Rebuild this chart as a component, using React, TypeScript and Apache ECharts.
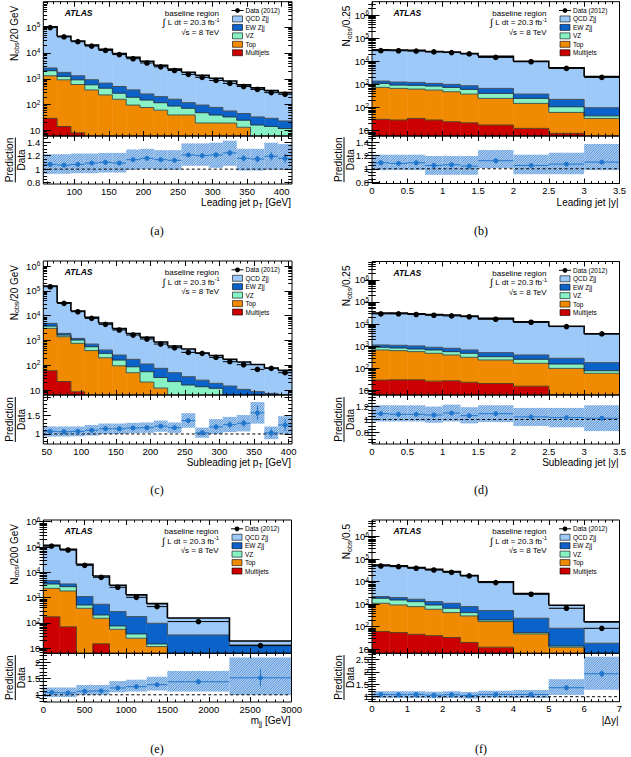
import React, { useEffect, useRef } from 'react';
import * as echarts from 'echarts';

// ===== (a) Leading jet pT, 20 GeV bins =====
const aEdges = [55, 75, 95, 115, 135, 155, 175, 195, 215, 235, 255, 275, 295, 315, 335, 355, 375, 395, 415];
const aData = [97000, 42000, 27500, 18600, 12600, 8700, 6000, 4100, 2900, 2100, 1480, 1130, 860, 660, 500, 385, 290, 250];
const aQCD = [101000, 42750, 28100, 19360, 13180, 8980, 6470, 4500, 3100, 2210, 1670, 1260, 964, 762, 535, 410, 316, 267];
const aEW = [560, 535, 398, 332, 247, 226, 179, 108, 85, 73, 47, 47, 38, 23, 20, 17, 15, 11.4];
const aVZ = [750, 325, 314, 216, 194, 114, 96, 73, 57, 48, 32, 29, 20, 14, 11.5, 11, 10, 8.2];
const aTop = [1280, 895, 590, 365, 234, 159, 94, 76, 60, 39, 39, 19, 19, 19, 13, 5, 4, 3.4];
const aMJ = [29, 14, 8, 4, 2, 1, 1, 0.5, 0.5, 0.3, 0.3, 0.2, 0.2, 0.1, 0.1, 0.1, 0.1, 0.1];
const aRatio = [1.07, 1.06, 1.07, 1.09, 1.1, 1.09, 1.14, 1.16, 1.14, 1.13, 1.21, 1.2, 1.21, 1.24, 1.16, 1.15, 1.19, 1.16];
const aBandLo = [0.93, 0.93, 0.94, 0.94, 0.95, 0.95, 0.99, 1.0, 0.99, 0.99, 1.05, 1.05, 1.02, 1.05, 0.98, 0.98, 0.99, 0.99];
const aBandHi = [1.22, 1.22, 1.23, 1.23, 1.24, 1.24, 1.29, 1.3, 1.28, 1.28, 1.38, 1.38, 1.39, 1.42, 1.3, 1.3, 1.39, 1.37];
const aStat = [0.004, 0.005, 0.006, 0.008, 0.01, 0.012, 0.014, 0.017, 0.02, 0.023, 0.028, 0.032, 0.037, 0.042, 0.048, 0.055, 0.063, 0.07];

// ===== (b) Leading jet |y| =====
const bEdges = [0, 0.25, 0.5, 0.75, 1, 1.25, 1.5, 2, 2.5, 3, 3.5];
const bData = [29000, 28700, 27500, 25500, 24000, 21000, 14800, 9600, 4950, 2020];
const bQCD = [30200, 29700, 28750, 25660, 24430, 20960, 15900, 9700, 5070, 2120];
const bEW = [293, 328, 316, 257, 260, 270, 265, 135, 117, 55];
const bVZ = [363, 266, 282, 280, 262, 227, 161, 98, 47, 10];
const bTop = [716, 647, 596, 544, 460, 363, 232, 139, 54, 31];
const bMJ = [31, 29, 34, 29, 24.5, 22, 17.6, 12.6, 7.7, 3];
const bRatio = [1.09, 1.08, 1.09, 1.05, 1.06, 1.04, 1.12, 1.05, 1.07, 1.1];
const bBandLo = [0.98, 0.98, 0.98, 0.91, 0.91, 0.91, 1.01, 0.92, 0.92, 0.98];
const bBandHi = [1.21, 1.21, 1.21, 1.19, 1.19, 1.19, 1.28, 1.21, 1.24, 1.37];
const bStat = [0.006, 0.006, 0.006, 0.006, 0.007, 0.007, 0.008, 0.01, 0.014, 0.022];

// ===== (c) Subleading jet pT =====
const cEdges = [45, 65, 85, 105, 125, 145, 165, 185, 205, 225, 245, 265, 285, 305, 325, 345, 365, 385, 405];
const cData = [147000, 31300, 14400, 7770, 4450, 2630, 1650, 1140, 716, 509, 330, 301, 207, 139, 105, 68, 75, 50];
const cQCD = [152400, 31250, 14200, 7830, 4660, 2740, 1740, 1220, 791, 546, 414, 285, 228, 159, 125, 98, 70, 56];
const cEW = [1070, 280, 170, 158, 109, 96, 86, 57, 43, 28, 18.5, 11.4, 6.9, 9.5, 6.6, 5.6, 4.3, 4.3];
const cVZ = [730, 240, 277, 168, 101, 67, 37, 34, 20, 18, 13, 11.6, 10.2, 4, 3.2, 2.5, 2.5, 1.7];
const cTop = [3010, 1388, 754, 387, 199, 94.5, 49.7, 20.8, 11.9, 3.9, 2.9, 1.9, 1.4, 0.9, 0.7, 0.4, 0.4, 0.2];
const cMJ = [60, 22, 8.5, 3, 1, 0.5, 0.3, 0.2, 0.1, 0.1, 0.1, 0.1, 0.1, 0.1, 0.1, 0.1, 0.1, 0.1];
const cRatio = [1.07, 1.06, 1.07, 1.1, 1.14, 1.14, 1.16, 1.17, 1.21, 1.17, 1.36, 1.03, 1.19, 1.25, 1.29, 1.57, 1.03, 1.24];
const cBandLo = [0.93, 0.93, 0.94, 0.96, 1.0, 1.0, 1.02, 1.03, 1.06, 1.03, 1.17, 0.9, 1.0, 1.05, 1.07, 1.28, 0.86, 1.0];
const cBandHi = [1.2, 1.2, 1.2, 1.24, 1.28, 1.28, 1.3, 1.31, 1.36, 1.31, 1.56, 1.17, 1.4, 1.46, 1.51, 1.86, 1.2, 1.48];
const cStat = [0.003, 0.006, 0.009, 0.012, 0.016, 0.02, 0.026, 0.032, 0.04, 0.048, 0.06, 0.06, 0.07, 0.09, 0.1, 0.19, 0.12, 0.16];

// ===== (d) Subleading jet |y| =====
const dEdges = [0, 0.25, 0.5, 0.75, 1, 1.25, 1.5, 2, 2.5, 3, 3.5];
const dData = [29100, 29100, 27200, 25300, 23600, 21700, 16700, 12200, 7800, 3630];
const dQCD = [30560, 30310, 28330, 26160, 25140, 22320, 17680, 12280, 7750, 3520];
const dEW = [248, 270, 278, 221, 240, 201, 177, 149, 129, 104];
const dVZ = [221, 206, 186, 201, 169, 165, 101, 88, 58, 19];
const dTop = [657, 610, 547, 459, 381, 297, 222, 156, 95, 58];
const dMJ = [30, 31, 31, 27, 28, 24, 21, 16, 6.5, 3];
const dRatio = [1.09, 1.08, 1.08, 1.07, 1.1, 1.06, 1.09, 1.04, 1.03, 1.02];
const dBandLo = [0.97, 0.97, 0.97, 0.95, 0.97, 0.94, 0.96, 0.9, 0.88, 0.82];
const dBandHi = [1.22, 1.22, 1.22, 1.2, 1.23, 1.19, 1.22, 1.18, 1.18, 1.22];
const dStat = [0.006, 0.006, 0.006, 0.006, 0.007, 0.007, 0.008, 0.009, 0.011, 0.017];

// ===== (e) m_jj =====
const eEdges = [0, 200, 400, 600, 800, 1000, 1250, 1500, 2250, 3000];
const eData = [109000, 76000, 18900, 6350, 2560, 1030, 442, 113, 12.7];
const eQCD = [111900, 77090, 19880, 6566, 2818, 1110, 482, 124, 5.8];
const eEW = [1220, 750, 584, 339, 204, 141, 82, 28.6, 12.5];
const eVZ = [1140, 890, 134, 54, 20, 12, 3.2, 3, 0.5];
const eTop = [2155, 1760, 379, 138, 56, 24.8, 11.6, 2, 0.5];
const eMJ = [175, 70, 0, 15, 0, 0, 0, 0, 0];
const eRatio = [1.07, 1.06, 1.11, 1.12, 1.21, 1.25, 1.31, 1.4, 1.52];
const eBandLo = [0.93, 0.93, 1.0, 1.0, 1.08, 1.1, 1.13, 1.1, 1.0];
const eBandHi = [1.22, 1.22, 1.3, 1.3, 1.42, 1.46, 1.55, 1.73, 2.14];
const eStat = [0.003, 0.004, 0.008, 0.014, 0.024, 0.04, 0.06, 0.08, 0.26];

// ===== (f) |Δy| =====
const fEdges = [0, 0.5, 1, 1.5, 2, 2.5, 3, 4, 5, 6, 7];
const fData = [49900, 46600, 39400, 33200, 26100, 18000, 9100, 2760, 660, 85];
const fQCD = [52220, 48360, 41290, 33890, 27090, 18120, 9400, 2770, 812, 145];
const fEW = [340, 418, 353, 376, 438, 358, 320, 183, 71.5, 13.5];
const fVZ = [734, 618, 521, 331, 237, 123, 31, 7, 1.7, 1];
const fTop = [1038, 872, 736, 556, 391, 281, 157, 48, 12.3, 4];
const fMJ = [61, 55, 46, 40, 33, 20, 12.3, 0, 0, 0];
const fRatio = [1.09, 1.08, 1.09, 1.06, 1.08, 1.05, 1.09, 1.09, 1.36, 1.92];
const fBandLo = [0.95, 0.95, 0.95, 0.94, 0.95, 0.93, 0.96, 0.95, 1.07, 1.28];
const fBandHi = [1.22, 1.22, 1.22, 1.2, 1.22, 1.19, 1.24, 1.27, 1.7, 2.6];
const fStat = [0.006, 0.006, 0.007, 0.007, 0.008, 0.01, 0.014, 0.025, 0.06, 0.14];

// ===== tick labels =====
const aXTicks = [100, 150, 200, 250, 300, 350, 400];
const yXTicks = [0, 0.5, 1, 1.5, 2, 2.5, 3, 3.5];
const cXTicks = [50, 100, 150, 200, 250, 300, 350, 400];
const eXTicks = [0, 500, 1000, 1500, 2000, 2500, 3000];
const fXTicks = [0, 1, 2, 3, 4, 5, 6, 7];
const LOG_LABELS = [10, 100, 1000, 10000, 100000, 1000000];
const rTicksAB = [0.8, 1, 1.2, 1.4];
const rTicksC = [1, 1.5, 2];
const rLabelsC = [1, 1.5];
const rTicksD = [0.8, 1, 1.2];
const rTicksE = [1, 1.5, 2];
const rTicksF = [1, 1.5, 2, 2.5];

const LEGEND_NAMES = ['QCD Zjj', 'EW Zjj', 'VZ', 'Top', 'Multijets'];

// ===== styling =====
const FONT = 'Liberation Sans';
const COMP_COLORS = ['#cc0000', '#f08a00', '#88f2c5', '#0b63c9', '#9cc9f7']; // MJ, Top, VZ, EW, QCD
const LEG_COLORS = ['#9cc9f7', '#0b63c9', '#88f2c5', '#f08a00', '#cc0000'];
const RATIO_COLOR = '#2277cc';
const HATCH = '#3a80d0';
const BAND_FILL = '#b6d3f2';

function range(a: number, b: number, s: number) {
  const out: number[] = [];
  for (let v = a; v <= b + 1e-9; v += s) out.push(Math.round(v * 1000) / 1000);
  return out;
}
function logMinor(min: number, max: number) {
  const out: number[] = [];
  for (let e = 0; e <= 7; e++) for (let m = 2; m <= 9; m++) {
    const v = m * Math.pow(10, e);
    if (v > min && v < max) out.push(v);
  }
  return out;
}

const PANELS: any[] = [
  { edges: aEdges, data: aData, comps: [aMJ, aTop, aVZ, aEW, aQCD], ratio: aRatio, lo: aBandLo, hi: aBandHi, stat: aStat,
    x: [55, 415], xMajor: aXTicks, xMinor: range(60, 410, 10), y: [6, 9.8e5], r: [0.78, 1.49], rMajor: rTicksAB, rLabels: rTicksAB, rMinor: range(0.8, 1.45, 0.05),
    box: { l: 43.3, r: 292, t: 1.7, m: 136, b: 184 }, yt: '{m|N}{sub|obs}{m|/20 GeV}', ytDx: 29, xt: '{m|Leading jet p}{sub|T}{m| [GeV]}', cap: '(a)', capXY: [157, 231] },
  { edges: bEdges, data: bData, comps: [bMJ, bTop, bVZ, bEW, bQCD], ratio: bRatio, lo: bBandLo, hi: bBandHi, stat: bStat,
    x: [0, 3.5], xMajor: yXTicks, xMinor: range(0, 3.5, 0.1), y: [5.9, 3.8e6], r: [0.78, 1.49], rMajor: rTicksAB, rLabels: rTicksAB, rMinor: range(0.8, 1.45, 0.05),
    box: { l: 372, r: 619.5, t: 1.7, m: 136, b: 183.5 }, yt: '{m|N}{sub|obs}{m|/0.25}', ytDx: 25.5, xt: '{m|Leading jet |y|}', cap: '(b)', capXY: [481, 231] },
  { edges: cEdges, data: cData, comps: [cMJ, cTop, cVZ, cEW, cQCD], ratio: cRatio, lo: cBandLo, hi: cBandHi, stat: cStat,
    x: [45, 405], xMajor: cXTicks, xMinor: range(50, 400, 10), y: [6.3, 1.6e6], r: [0.73, 2.05], rMajor: rTicksC, rLabels: rLabelsC, rMinor: range(0.8, 2.0, 0.1),
    box: { l: 43.3, r: 292, t: 261, m: 395, b: 444 }, yt: '{m|N}{sub|obs}{m|/20 GeV}', ytDx: 29, xt: '{m|Subleading jet p}{sub|T}{m| [GeV]}', cap: '(c)', capXY: [157, 490] },
  { edges: dEdges, data: dData, comps: [dMJ, dTop, dVZ, dEW, dQCD], ratio: dRatio, lo: dBandLo, hi: dBandHi, stat: dStat,
    x: [0, 3.5], xMajor: yXTicks, xMinor: range(0, 3.5, 0.1), y: [6.4, 6.7e6], r: [0.62, 1.38], rMajor: rTicksD, rLabels: rTicksD, rMinor: range(0.65, 1.35, 0.05),
    box: { l: 372, r: 619.5, t: 261.5, m: 395, b: 444 }, yt: '{m|N}{sub|obs}{m|/0.25}', ytDx: 25.5, xt: '{m|Subleading jet |y|}', cap: '(d)', capXY: [481, 490] },
  { edges: eEdges, data: eData, comps: [eMJ, eTop, eVZ, eEW, eQCD], ratio: eRatio, lo: eBandLo, hi: eBandHi, stat: eStat,
    x: [0, 3000], xMajor: eXTicks, xMinor: range(0, 3000, 100), y: [6.3, 1.17e6], r: [0.78, 2.27], rMajor: rTicksE, rLabels: rTicksE, rMinor: range(0.8, 2.2, 0.1),
    box: { l: 43.3, r: 291.5, t: 520, m: 653.3, b: 702 }, yt: '{m|N}{sub|obs}{m|/200 GeV}', ytDx: 29, xt: '{m|m}{sub|jj}{m| [GeV]}', cap: '(e)', capXY: [157, 749] },
  { edges: fEdges, data: fData, comps: [fMJ, fTop, fVZ, fEW, fQCD], ratio: fRatio, lo: fBandLo, hi: fBandHi, stat: fStat,
    x: [0, 7], xMajor: fXTicks, xMinor: range(0, 7, 0.2), y: [6.6, 5.5e6], r: [0.8, 2.74], rMajor: rTicksF, rLabels: rTicksF, rMinor: range(0.8, 2.7, 0.1),
    box: { l: 372, r: 619.5, t: 520, m: 653.3, b: 701.7 }, yt: '{m|N}{sub|obs}{m|/0.5}', ytDx: 25.5, xt: '{m||Δy|}', cap: '(f)', capXY: [481, 749] },
];

function tick(values: number[], len: number) {
  return { show: true, inside: true, length: len, customValues: values, lineStyle: { color: '#000', width: 1 } };
}

function makeX(gi: number, P: any, labels: boolean) {
  const base = { gridIndex: gi, type: 'value', min: P.x[0], max: P.x[1], z: 10, axisLine: { show: false }, splitLine: { show: false }, axisLabel: { show: false } };
  const maj = P.xMajor.filter((v: number) => v >= P.x[0] && v <= P.x[1]);
  const min = P.xMinor.filter((v: number) => v >= P.x[0] && v <= P.x[1]);
  return [
    { ...base, position: 'bottom', axisTick: tick(maj, 5),
      axisLabel: labels ? { show: true, customValues: maj, formatter: (v: number) => String(v), fontSize: 9.5, color: '#000', margin: 2, fontFamily: FONT } : { show: false } },
    { ...base, position: 'bottom', axisTick: tick(min, 2.5) },
    { ...base, position: 'top', axisTick: tick(maj, 5) },
    { ...base, position: 'top', axisTick: tick(min, 2.5) },
  ];
}

function makeLogY(gi: number, P: any) {
  const base = { gridIndex: gi, type: 'log', logBase: 10, min: P.y[0], max: P.y[1], z: 10, axisLine: { show: false }, splitLine: { show: false }, axisLabel: { show: false } };
  const maj = LOG_LABELS.filter((v) => v >= P.y[0] && v <= P.y[1]);
  const min = logMinor(P.y[0], P.y[1]);
  return [
    { ...base, position: 'left', axisTick: tick(maj, 7.5),
      axisLabel: { show: true, customValues: maj, margin: 3, fontFamily: FONT,
        formatter: (v: number) => { const e = Math.round(Math.log10(v)); return e === 1 ? '{b|10}' : '{b|10}{s|' + e + '}'; },
        rich: { b: { fontSize: 9.5, lineHeight: 12, color: '#000', fontFamily: FONT }, s: { fontSize: 6.5, lineHeight: 7, verticalAlign: 'top', color: '#000', fontFamily: FONT } } } },
    { ...base, position: 'left', axisTick: tick(min, 3.8) },
    { ...base, position: 'right', axisTick: tick(maj, 7.5) },
    { ...base, position: 'right', axisTick: tick(min, 3.8) },
  ];
}

function makeRatioY(gi: number, P: any) {
  const base = { gridIndex: gi, type: 'value', min: P.r[0], max: P.r[1], z: 10, axisLine: { show: false }, splitLine: { show: false }, axisLabel: { show: false } };
  const min = P.rMinor.filter((v: number) => v >= P.r[0] && v <= P.r[1]);
  return [
    { ...base, position: 'left', axisTick: tick(P.rMajor, 7.5),
      axisLabel: { show: true, customValues: P.rLabels, formatter: (v: number) => String(v), fontSize: 9.5, color: '#000', margin: 3, fontFamily: FONT } },
    { ...base, position: 'left', axisTick: tick(min, 3.8) },
    { ...base, position: 'right', axisTick: tick(P.rMajor, 7.5) },
    { ...base, position: 'right', axisTick: tick(min, 3.8) },
  ];
}

function hatchLines(x0: number, y0: number, x1: number, y1: number) {
  const s = 2.4;
  const out: any[] = [];
  const c0 = Math.ceil((x0 + y0) / s) * s;
  for (let c = c0; c <= x1 + y1; c += s) {
    const xa = Math.max(x0, c - y1);
    const xb = Math.min(x1, c - y0);
    if (xb > xa) out.push({ type: 'line', shape: { x1: xa, y1: c - xa, x2: xb, y2: c - xb }, style: { stroke: HATCH, lineWidth: 0.8 } });
  }
  return out;
}

function txt(x: number, y: number, text: string, o: any = {}) {
  const align = o.align || 'left';
  const va = o.va || 'middle';
  return {
    type: 'text', x, y, z: 100, rotation: o.rotation || 0, silent: true,
    style: { text, fill: '#000', fontSize: o.size || 8, fontFamily: o.family || FONT, fontWeight: o.weight || 'normal', fontStyle: o.fstyle || 'normal',
      align, textAlign: align, verticalAlign: va, textVerticalAlign: va, rich: o.rich },
  };
}

const TITLE_RICH = {
  m: { fontSize: 10, lineHeight: 10, fontFamily: FONT, fill: '#000' },
  sub: { fontSize: 7, lineHeight: 7, fontFamily: FONT, fill: '#000', verticalAlign: 'top', padding: [4, 0, 0, 0] },
};
const LUMI_RICH = {
  i: { fontSize: 10, lineHeight: 9, fontFamily: FONT, fill: '#000' },
  t: { fontSize: 8, lineHeight: 9, fontFamily: FONT, fill: '#000' },
};

function buildOption() {
  const grid: any[] = [], xAxis: any[] = [], yAxis: any[] = [], series: any[] = [], graphic: any[] = [];
  PANELS.forEach((P) => {
    const B = P.box;
    const n = P.data.length;
    const gM = grid.length;
    grid.push({ left: B.l, top: B.t, width: B.r - B.l, height: B.m - B.t, show: false, outerBoundsMode: 'none' });
    const gR = grid.length;
    grid.push({ left: B.l, top: B.m, width: B.r - B.l, height: B.b - B.m, show: false, outerBoundsMode: 'none' });
    const xM = xAxis.length; xAxis.push(...makeX(gM, P, false));
    const xR = xAxis.length; xAxis.push(...makeX(gR, P, true));
    const yM = yAxis.length; yAxis.push(...makeLogY(gM, P));
    const yR = yAxis.length; yAxis.push(...makeRatioY(gR, P));

    // cumulative stack levels (bottom -> top)
    const cum: number[][] = [];
    let run = new Array(n).fill(0);
    for (let k = 0; k < 5; k++) {
      run = run.map((v: number, i: number) => v + P.comps[k][i]);
      cum.push(run.slice());
    }
    const floor = P.y[0] * 0.4;
    const binData = P.data.map((_: number, i: number) => [(P.edges[i] + P.edges[i + 1]) / 2, cum[4][i], i]);

    series.push({
      type: 'custom', xAxisIndex: xM, yAxisIndex: yM, clip: true, silent: true, z: 2, data: binData,
      renderItem: (_p: any, api: any) => {
        const i = api.value(2);
        const lo = P.edges[i], hi = P.edges[i + 1];
        const children: any[] = [];
        for (let k = 0; k < 5; k++) {
          const bot = k === 0 ? 0 : cum[k - 1][i];
          const top = cum[k][i];
          if (P.comps[k][i] > 0 && top > P.y[0]) {
            const a = api.coord([lo, top]);
            const b = api.coord([hi, Math.max(bot, floor)]);
            children.push({ type: 'rect', shape: { x: a[0], y: a[1], width: b[0] - a[0], height: b[1] - a[1] },
              style: { fill: COMP_COLORS[k], stroke: COMP_COLORS[k], lineWidth: 0.5 } });
          }
        }
        return { type: 'group', children };
      },
    });
    series.push({
      type: 'custom', xAxisIndex: xM, yAxisIndex: yM, clip: true, silent: true, z: 3, data: binData,
      renderItem: (_p: any, api: any) => {
        const i = api.value(2);
        const lo = P.edges[i], hi = P.edges[i + 1];
        const children: any[] = [];
        for (let k = 0; k < 5; k++) {
          const y1 = Math.max(cum[k][i], floor);
          const a = api.coord([lo, y1]);
          const b = api.coord([hi, y1]);
          const pts = [a, b];
          if (i < n - 1) pts.push(api.coord([hi, Math.max(cum[k][i + 1], floor)]));
          children.push({ type: 'polyline', shape: { points: pts },
            style: k === 4 ? { stroke: '#000', lineWidth: 1.6, fill: null } : { stroke: '#2a2a2a', lineWidth: 0.75, fill: null } });
        }
        return { type: 'group', children };
      },
    });
    // data points
    series.push({
      type: 'custom', xAxisIndex: xM, yAxisIndex: yM, clip: true, silent: true, z: 4,
      data: P.data.map((v: number, i: number) => [(P.edges[i] + P.edges[i + 1]) / 2, v, i]),
      renderItem: (_p: any, api: any) => {
        const i = api.value(2);
        const v = P.data[i];
        const a = api.coord([P.edges[i], v]);
        const b = api.coord([P.edges[i + 1], v]);
        const c = api.coord([(P.edges[i] + P.edges[i + 1]) / 2, v]);
        return { type: 'group', children: [
          { type: 'line', shape: { x1: a[0], y1: a[1], x2: b[0], y2: b[1] }, style: { stroke: '#000', lineWidth: 1 } },
          { type: 'circle', shape: { cx: c[0], cy: c[1], r: 2.8 }, style: { fill: '#000' } },
        ] };
      },
    });
    // ratio band
    series.push({
      type: 'custom', xAxisIndex: xR, yAxisIndex: yR, clip: true, silent: true, z: 2,
      data: P.ratio.map((v: number, i: number) => [(P.edges[i] + P.edges[i + 1]) / 2, v, i]),
      renderItem: (_p: any, api: any) => {
        const i = api.value(2);
        const a = api.coord([P.edges[i], P.hi[i]]);
        const b = api.coord([P.edges[i + 1], P.lo[i]]);
        return { type: 'group', children: [
          { type: 'rect', shape: { x: a[0], y: a[1], width: b[0] - a[0], height: b[1] - a[1] }, style: { fill: BAND_FILL } },
          ...hatchLines(a[0], a[1], b[0], b[1]),
        ] };
      },
    });
    // dashed unity line
    series.push({
      type: 'line', xAxisIndex: xR, yAxisIndex: yR, silent: true, z: 3, symbol: 'none', showSymbol: false,
      data: [[P.x[0], 1], [P.x[1], 1]], lineStyle: { color: '#000', width: 1, type: [3, 2.5] },
    });
    // ratio points
    series.push({
      type: 'custom', xAxisIndex: xR, yAxisIndex: yR, clip: true, silent: true, z: 4,
      data: P.ratio.map((v: number, i: number) => [(P.edges[i] + P.edges[i + 1]) / 2, v, i]),
      renderItem: (_p: any, api: any) => {
        const i = api.value(2);
        const v = P.ratio[i];
        const xc = (P.edges[i] + P.edges[i + 1]) / 2;
        const a = api.coord([P.edges[i], v]);
        const b = api.coord([P.edges[i + 1], v]);
        const c = api.coord([xc, v]);
        const u = api.coord([xc, v + P.stat[i]]);
        const d = api.coord([xc, v - P.stat[i]]);
        return { type: 'group', children: [
          { type: 'line', shape: { x1: a[0], y1: a[1], x2: b[0], y2: b[1] }, style: { stroke: RATIO_COLOR, lineWidth: 1 } },
          { type: 'line', shape: { x1: u[0], y1: u[1], x2: d[0], y2: d[1] }, style: { stroke: RATIO_COLOR, lineWidth: 1 } },
          { type: 'circle', shape: { cx: c[0], cy: c[1], r: 2.5 }, style: { fill: RATIO_COLOR } },
        ] };
      },
    });

    // frames
    graphic.push({ type: 'rect', z: 100, silent: true, shape: { x: B.l, y: B.t, width: B.r - B.l, height: B.m - B.t }, style: { fill: null, stroke: '#000', lineWidth: 1 } });
    graphic.push({ type: 'rect', z: 100, silent: true, shape: { x: B.l, y: B.m, width: B.r - B.l, height: B.b - B.m }, style: { fill: null, stroke: '#000', lineWidth: 1 } });

    // labels inside main pad
    graphic.push(txt(B.l + 21.5, B.t + 11, 'ATLAS', { size: 8.5, weight: 'bold', fstyle: 'italic' }));
    graphic.push(txt(B.r - 73, B.t + 11.5, 'baseline region', { size: 8, align: 'right' }));
    graphic.push(txt(B.r - 77.5, B.t + 21, '{i|∫}{t| L dt = 20.3 fb}', { size: 8, align: 'right', rich: LUMI_RICH }));
    graphic.push(txt(B.r - 77.3, B.t + 18.3, '-1', { size: 5.5, align: 'left' }));
    graphic.push(txt(B.r - 73, B.t + 30.5, '√s = 8 TeV', { size: 8, align: 'right' }));

    // legend
    const rowY = (j: number) => B.t + 8.8 + 8.45 * j;
    graphic.push({ type: 'line', z: 100, silent: true, shape: { x1: B.r - 60.5, y1: rowY(0), x2: B.r - 48.5, y2: rowY(0) }, style: { stroke: '#000', lineWidth: 1 } });
    graphic.push({ type: 'circle', z: 100, silent: true, shape: { cx: B.r - 54.5, cy: rowY(0), r: 2.4 }, style: { fill: '#000' } });
    graphic.push(txt(B.r - 46.5, rowY(0), 'Data (2012)', { size: 6.5 }));
    LEGEND_NAMES.forEach((name, j) => {
      const y = rowY(j + 1);
      graphic.push({ type: 'rect', z: 100, silent: true, shape: { x: B.r - 59.5, y: y - 3, width: 10, height: 6 }, style: { fill: LEG_COLORS[j], stroke: '#000', lineWidth: 0.6 } });
      graphic.push(txt(B.r - 46.5, y, name, { size: 6.5 }));
    });

    // axis titles
    graphic.push(txt(B.l - P.ytDx, B.t + 4, P.yt, { align: 'right', rotation: Math.PI / 2, rich: TITLE_RICH, size: 10 }));
    const rc = (B.m + B.b) / 2;
    graphic.push(txt(B.l - 33.5, rc, 'Prediction', { align: 'center', rotation: Math.PI / 2, size: 10 }));
    graphic.push(txt(B.l - 21.5, rc, 'Data', { align: 'center', rotation: Math.PI / 2, size: 10 }));
    graphic.push({ type: 'line', z: 100, silent: true, shape: { x1: B.l - 28, y1: rc - 22.5, x2: B.l - 28, y2: rc + 22.5 }, style: { stroke: '#000', lineWidth: 1 } });
    graphic.push(txt(B.r - 1, B.b + 18.5, P.xt, { align: 'right', rich: TITLE_RICH, size: 10 }));
    graphic.push(txt(P.capXY[0], P.capXY[1], P.cap, { align: 'center', size: 12, family: 'Liberation Serif' }));
  });
  return { animation: false, backgroundColor: '#fff', textStyle: { fontFamily: FONT }, grid, xAxis, yAxis, series, graphic };
}

export default function App() {
  const ref = useRef<HTMLDivElement>(null);
  useEffect(() => {
    if (!ref.current) return;
    const chart = echarts.init(ref.current, undefined, { renderer: 'svg' });
    chart.setOption(buildOption() as any);
    return () => chart.dispose();
  }, []);
  return <div ref={ref} style={{ position: 'absolute', left: 0, top: 0, width: 631, height: 757, background: '#fff' }} />;
}
